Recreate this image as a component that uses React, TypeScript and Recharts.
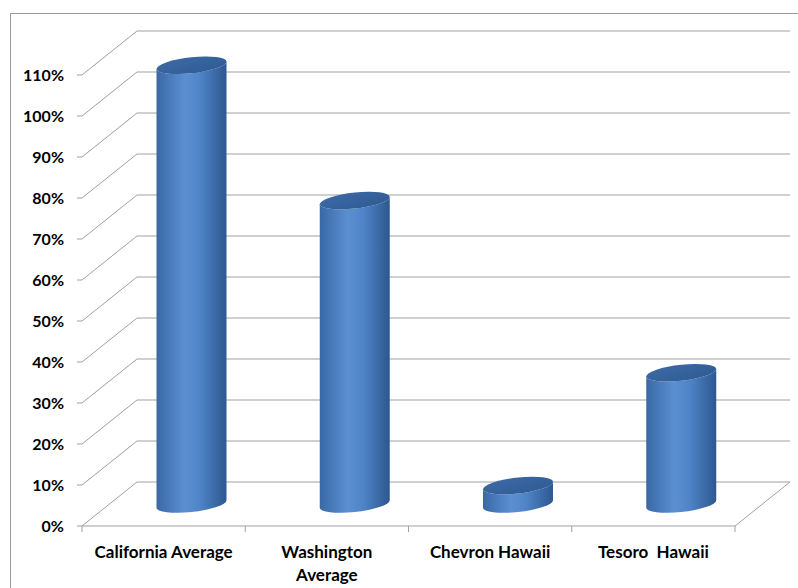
import React from 'react';
import { BarChart, Bar, XAxis, YAxis, CartesianGrid } from 'recharts';

const categories = ['California Average', 'Washington\nAverage', 'Chevron Hawaii', 'Tesoro  Hawaii'];
const shares = [1.07, 0.74, 0.045, 0.32];
const yTicks = [0, 0.1, 0.2, 0.3, 0.4, 0.5, 0.6, 0.7, 0.8, 0.9, 1.0, 1.1];

const data = categories.map((name, i) => ({ name, value: shares[i] }));

// depth of the 3D box (back wall offset)
const DX = 55;
const DY = -44;
const GRID = '#a0a0a0';
const FONT = 'Lato, "Open Sans", sans-serif';

const Cylinder = (props: any) => {
  const { x, y, width, height } = props;
  const rx = width / 2;
  const ry = 8;
  const cx = x + rx + DX / 2;
  const top = y + DY / 2;
  const bot = y + height + DY / 2;
  const body = `M${cx - rx},${top} L${cx - rx},${bot} A${rx},${ry} 0 0 0 ${cx + rx},${bot} L${cx + rx},${top} A${rx},${ry} 0 0 1 ${cx - rx},${top} Z`;
  return (
    <g transform={`translate(${cx} 0) skewY(-6) translate(${-cx} 0)`}>
      <path d={body} fill="url(#cylBody)" />
      <ellipse cx={cx} cy={top} rx={rx} ry={ry} fill="url(#cylTop)" />
    </g>
  );
};

// horizontal gridline: side wall diagonal + back wall line
const WallLine = (props: any) => {
  const { x1, y1, x2, y2 } = props;
  return (
    <g key={props.key}>
      <polyline
        points={`${x1},${y1} ${x1 + DX},${y1 + DY} ${x2 + DX},${y2 + DY}`}
        fill="none"
        stroke={GRID}
        strokeWidth={1}
      />
    </g>
  );
};

const XTick = (props: any) => {
  const { x, y, payload, index } = props;
  const half = payload.offset || 81.6;
  const lines = String(payload.value).split('\n');
  return (
    <g>
      <line x1={x - half} y1={y} x2={x - half} y2={y + 6} stroke={GRID} />
      {index === categories.length - 1 && (
        <>
          <line x1={x + half} y1={y} x2={x + half} y2={y + 6} stroke={GRID} />
          <line x1={x + half} y1={y} x2={x + half + DX} y2={y + DY} stroke={GRID} />
        </>
      )}
      <text
        x={x}
        y={y + 32}
        textAnchor="middle"
        fill="#000"
        fontFamily={FONT}
        fontWeight={700}
        fontSize={17}
        style={{ whiteSpace: 'pre' }}
      >
        {lines.map((l, i) => (
          <tspan key={i} x={x} dy={i === 0 ? 0 : 23}>
            {l}
          </tspan>
        ))}
      </text>
    </g>
  );
};

export default function App() {
  return (
    <div style={{ position: 'absolute', left: 0, top: 0, width: 798, height: 588, background: '#fff', overflow: 'hidden' }}>
      <div style={{ position: 'absolute', left: 10, top: 13, width: 800, height: 600, border: '1px solid #9a9a9a' }} />
      <div style={{ position: 'absolute', left: 0, top: 0 }}>
        <BarChart width={798} height={588} data={data} margin={{ top: 75, right: 63, left: 0, bottom: 0 }} barSize={70}>
          <defs>
            <linearGradient id="cylBody" x1="0" y1="0" x2="1" y2="0">
              <stop offset="0" stopColor="#3a68a6" />
              <stop offset="0.4" stopColor="#5b8fd2" />
              <stop offset="0.6" stopColor="#5086c9" />
              <stop offset="1" stopColor="#2d5890" />
            </linearGradient>
            <linearGradient id="cylTop" x1="0" y1="0" x2="1" y2="1">
              <stop offset="0" stopColor="#3d6aa6" />
              <stop offset="1" stopColor="#2f5b93" />
            </linearGradient>
          </defs>
          <CartesianGrid vertical={false} horizontal={(p: any) => <WallLine {...p} />} />
          <XAxis
            dataKey="name"
            height={62}
            axisLine={{ stroke: GRID }}
            tickLine={false}
            tickSize={0}
            tickMargin={0}
            interval={0}
            tick={<XTick />}
          />
          <YAxis
            width={82}
            domain={[0, 1.1]}
            ticks={yTicks}
            axisLine={false}
            tickLine={{ stroke: GRID }}
            tickSize={5}
            tickMargin={13}
            tickFormatter={(v: number) => `${Math.round(v * 100)}%`}
            tick={{ fill: '#000', fontFamily: FONT, fontWeight: 700, fontSize: 16 }}
          />
          <Bar dataKey="value" shape={<Cylinder />} isAnimationActive={false} />
        </BarChart>
      </div>
    </div>
  );
}
